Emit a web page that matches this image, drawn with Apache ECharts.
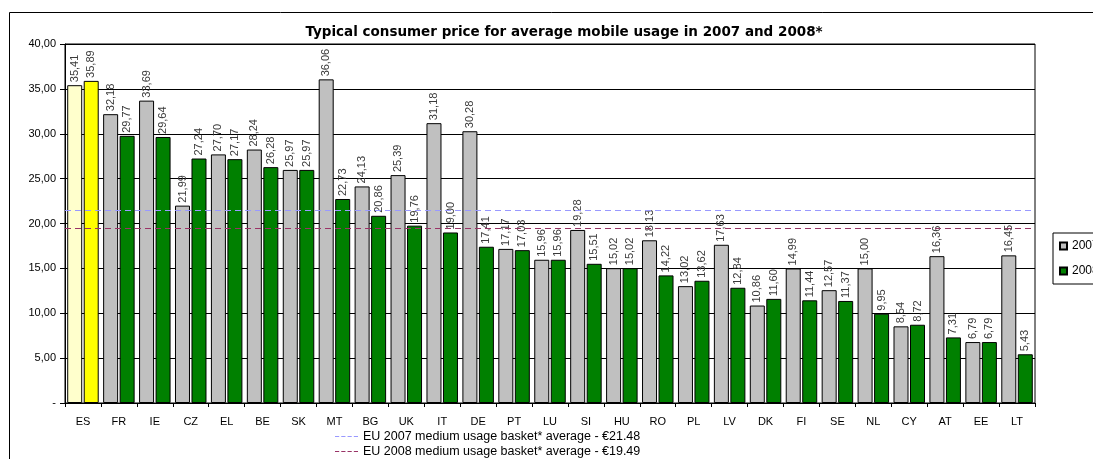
<!DOCTYPE html>
<html>
<head>
<meta charset="utf-8">
<script src="https://cdn.jsdelivr.net/npm/echarts@6/dist/echarts.min.js"></script>
<style>
html,body{margin:0;padding:0;background:#fff;}
#chart{width:1093px;height:459px;}
</style>
</head>
<body>
<div id="chart"></div>
<script>
var categories = ['ES','FR','IE','CZ','EL','BE','SK','MT','BG','UK','IT','DE','PT','LU','SI','HU','RO','PL','LV','DK','FI','SE','NL','CY','AT','EE','LT'];
var values2007 = [35.41,32.18,33.69,21.99,27.70,28.24,25.97,36.06,24.13,25.39,31.18,30.28,17.17,15.96,19.28,15.02,18.13,13.02,17.63,10.86,14.99,12.57,15.00,8.54,16.36,6.79,16.45];
var values2008 = [35.89,29.77,29.64,27.24,27.17,26.28,25.97,22.73,20.86,19.76,19.00,17.41,17.03,15.96,15.51,15.02,14.22,13.62,12.84,11.60,11.44,11.37,9.95,8.72,7.31,6.79,5.43];
var yTicks = [0,5,10,15,20,25,30,35,40];
var avg2007 = 21.48;
var avg2008 = 19.49;
var avgName2007 = 'EU 2007 medium usage basket* average - €21.48';
var avgName2008 = 'EU 2008 medium usage basket* average - €19.49';
var title = 'Typical consumer price for average mobile usage in 2007 and 2008*';

var FONT = '"Liberation Sans", Arial, sans-serif';
function comma(v){ return v.toFixed(2).replace('.', ','); }

var d2007 = values2007.map(function(v,i){
  return categories[i]==='ES' ? {value:v, itemStyle:{color:'#ffffcc'}} : v;
});
var d2008 = values2008.map(function(v,i){
  return categories[i]==='ES' ? {value:v, itemStyle:{color:'#ffff00'}} : v;
});

var barLabel = {
  show:true, position:'top', rotate:90, align:'left', verticalAlign:'middle',
  distance:3, fontFamily:FONT, fontSize:11, color:'#3a3a3a',
  formatter:function(p){ return comma(p.value); }
};

var dashIcon = 'path://M0,0h4v1h-4z M6,0h4v1h-4z M12,0h4v1h-4z M18,0h4v1h-4z';

var chart = echarts.init(document.getElementById('chart'), null, {renderer:'canvas'});
chart.setOption({
  animation:false,
  backgroundColor:'#fff',
  title:{
    text:title, left:559, top:20, textAlign:'center',
    textStyle:{fontFamily:'"DejaVu Sans", Verdana, sans-serif', fontSize:13.5, fontWeight:'bold', color:'#000'}
  },
  graphic:[
    {type:'rect', shape:{x:9.5, y:12.5, width:1200, height:600}, style:{fill:'none', stroke:'#000', lineWidth:1}, silent:true, z:-1}
  ],
  legend:[
    {
      data:[{name:'2007', icon:'rect'},{name:'2008', icon:'rect'}], orient:'vertical', left:1053, top:233,
      borderColor:'#000', borderWidth:1, padding:[7,6,7,6],
      itemWidth:7, itemHeight:7, itemGap:13,
      textStyle:{fontFamily:FONT, fontSize:12, color:'#000'}
    },
    {
      data:[
        {name:avgName2007, icon:dashIcon, itemStyle:{color:'#9999ff', borderWidth:0}},
        {name:avgName2008, icon:dashIcon, itemStyle:{color:'#993366', borderWidth:0}}
      ], orient:'vertical', left:335, top:430,
      width:400, height:60,
      itemWidth:23, itemHeight:1.2, itemGap:2, padding:0,
      textStyle:{fontFamily:FONT, fontSize:12.5, color:'#000', lineHeight:13}
    }
  ],
  grid:{left:65, right:58, top:44, bottom:56, show:true, borderColor:'#000', borderWidth:1, backgroundColor:'transparent'},
  xAxis:{
    type:'category', data:categories,
    axisLine:{lineStyle:{color:'#000', width:1}},
    axisTick:{show:true, alignWithLabel:false, length:4, lineStyle:{color:'#000'}},
    axisLabel:{fontFamily:FONT, fontSize:11, color:'#000', margin:13, interval:0}
  },
  yAxis:{
    type:'value', min:0, max:40, interval:5,
    axisLine:{show:true, lineStyle:{color:'#000'}},
    axisTick:{show:true, length:5, lineStyle:{color:'#000'}},
    splitLine:{show:true, lineStyle:{color:'#000', width:1}},
    axisLabel:{fontFamily:FONT, fontSize:11, color:'#000', margin:9,
      formatter:function(v){ return v===0 ? '-' : comma(v); }}
  },
  series:[
    {
      name:'2007', type:'bar', data:d2007, barWidth:15, barGap:'10%',
      itemStyle:{color:'#c0c0c0', borderColor:'#000', borderWidth:1},
      label:barLabel, z:3
    },
    {
      name:'2008', type:'bar', data:d2008, barWidth:15, barGap:'10%',
      itemStyle:{color:'#008000', borderColor:'#000', borderWidth:1},
      label:barLabel, z:3
    },
    {
      name:avgName2007, type:'line', data:[], symbol:'none', showSymbol:false,
      lineStyle:{color:'#9999ff', type:'dashed', width:1}, itemStyle:{color:'#9999ff'},
      markLine:{silent:true, symbol:'none', label:{show:false},
        lineStyle:{color:'#9999ff', type:[6,4], width:1.2},
        data:[{yAxis:avg2007}]}, z:4
    },
    {
      name:avgName2008, type:'line', data:[], symbol:'none', showSymbol:false,
      lineStyle:{color:'#993366', type:'dashed', width:1}, itemStyle:{color:'#993366'},
      markLine:{silent:true, symbol:'none', label:{show:false},
        lineStyle:{color:'#993366', type:[6,4], width:1.2},
        data:[{yAxis:avg2008}]}, z:4
    }
  ]
});
</script>
</body>
</html>
